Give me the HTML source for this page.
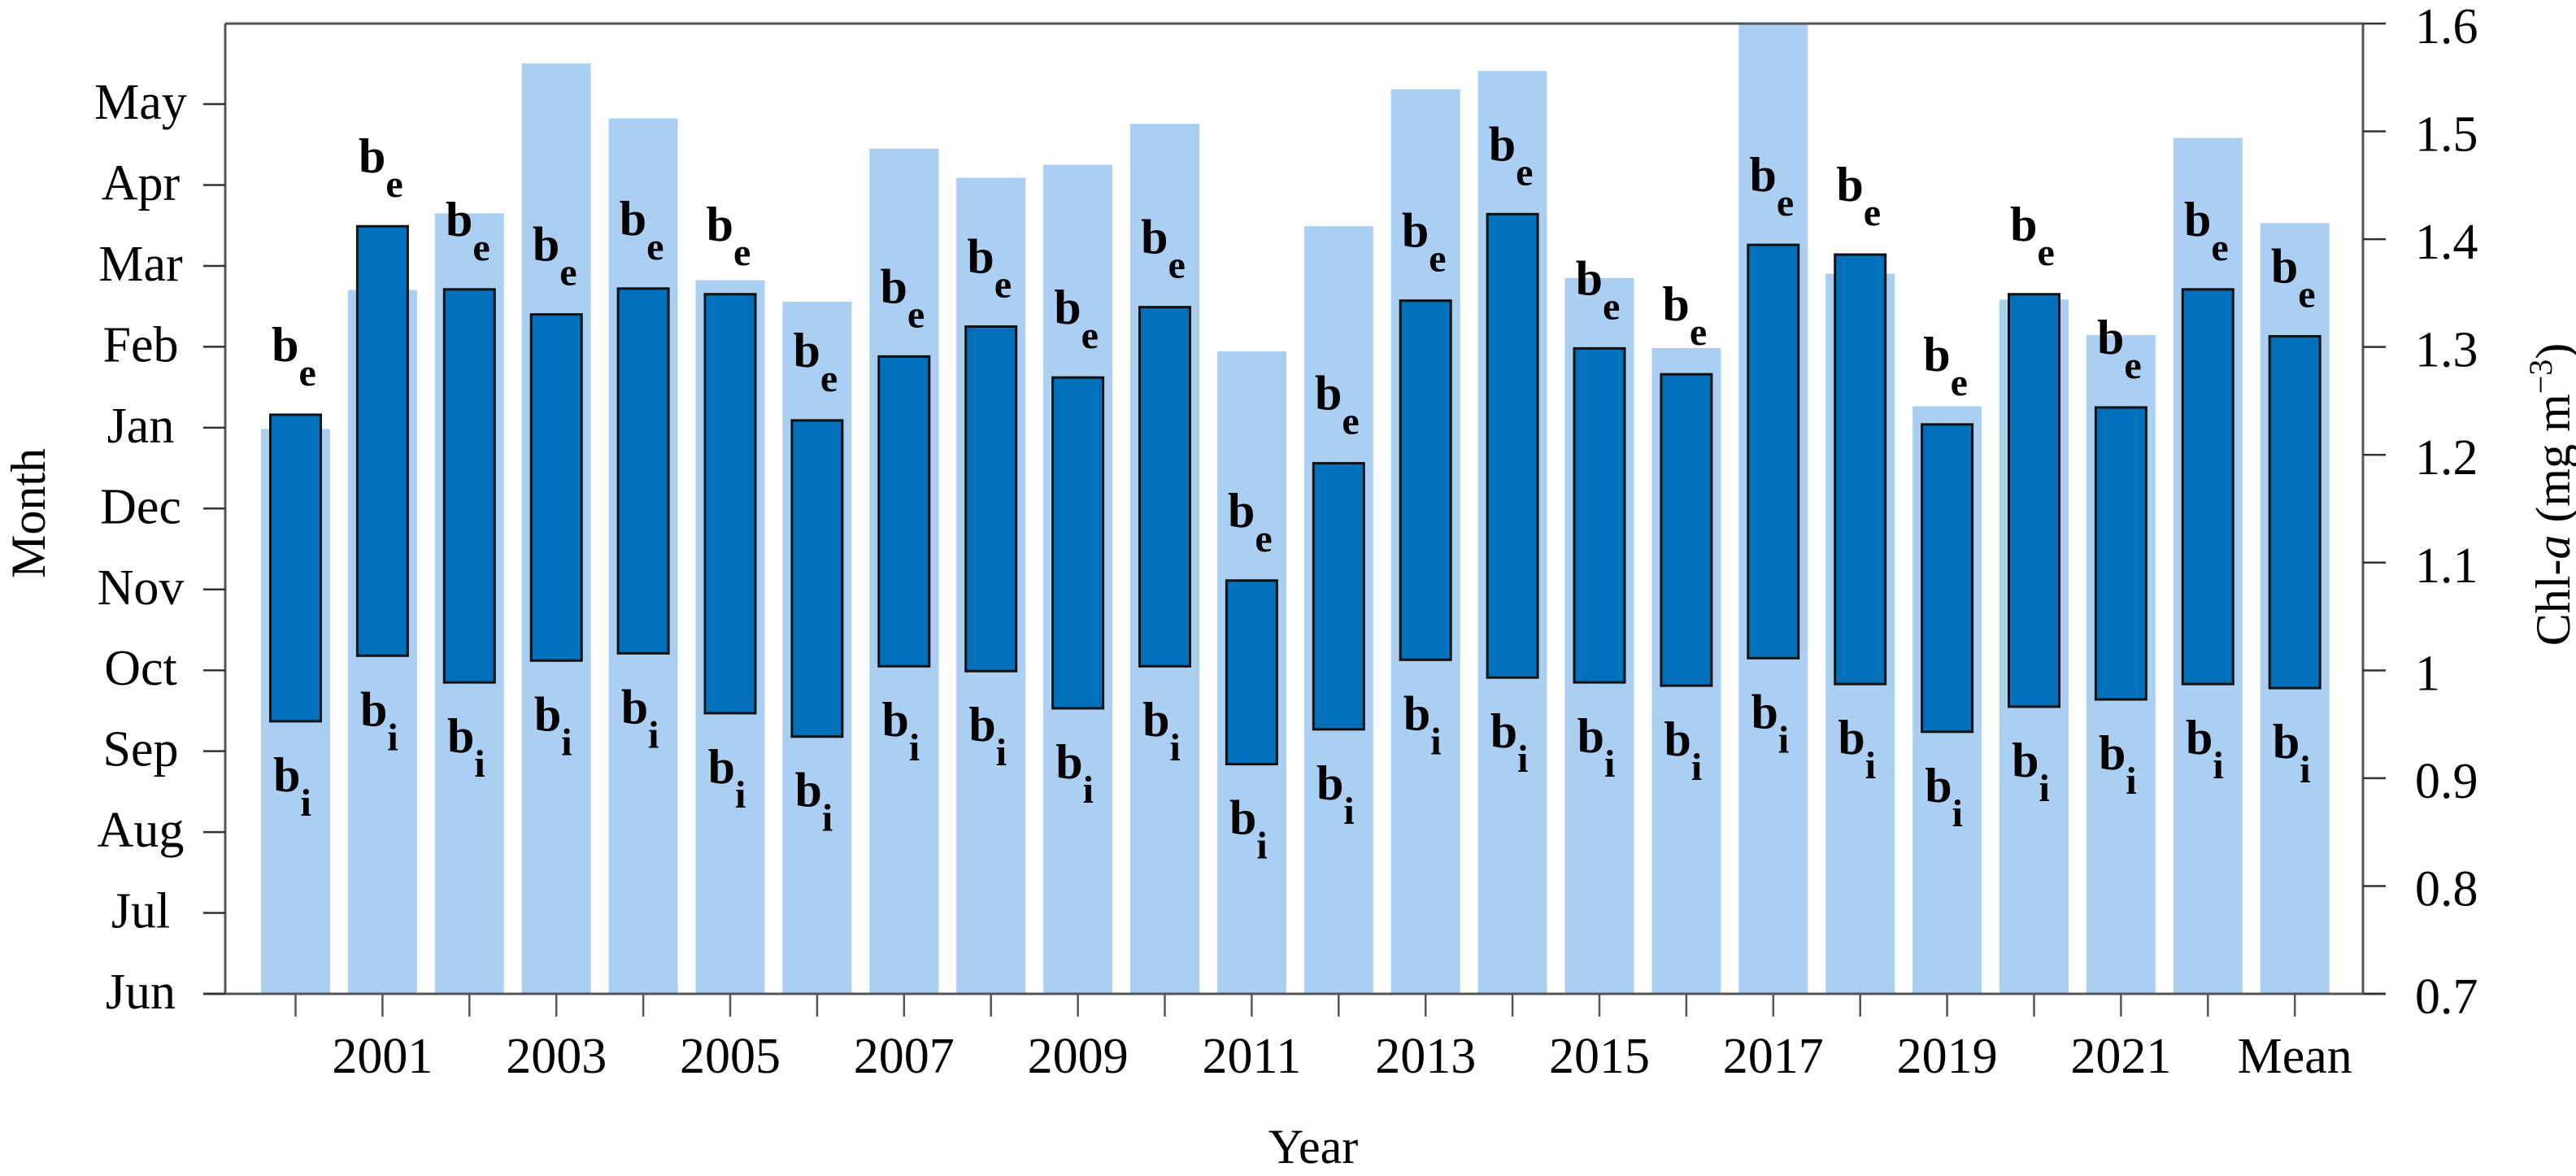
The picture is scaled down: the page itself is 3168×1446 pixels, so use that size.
<!DOCTYPE html>
<html><head><meta charset="utf-8"><style>
html,body{margin:0;padding:0;background:#fff;}
svg{display:block;font-family:"Liberation Serif",serif;}
</style></head><body>
<svg id="chart" width="3168" height="1446" viewBox="0 0 3168 1446" xmlns="http://www.w3.org/2000/svg">
<g id="light-bars"></g>
<g id="dark-bars"></g>
<g id="labels"></g>
<g id="axes"></g>
<text transform="translate(55,631) rotate(-90)" text-anchor="middle" font-size="60">Month</text>
<text transform="translate(3160,608) rotate(-90)" text-anchor="middle" font-size="60">Chl-<tspan font-style="italic">a</tspan> (mg m<tspan font-size="40" dy="-22">−3</tspan><tspan dy="22">)</tspan></text>
<text x="1615" y="1430" text-anchor="middle" font-size="60">Year</text>
</svg>
<script>
const categories = ["2000","2001","2002","2003","2004","2005","2006","2007","2008","2009","2010","2011","2012","2013","2014","2015","2016","2017","2018","2019","2020","2021","2022","Mean"];
const xTickLabels = ["","2001","","2003","","2005","","2007","","2009","","2011","","2013","","2015","","2017","","2019","","2021","","Mean"];
const chlValues = [1.224,1.353,1.424,1.563,1.512,1.362,1.342,1.484,1.457,1.469,1.507,1.296,1.412,1.539,1.556,1.364,1.299,1.60,1.368,1.245,1.344,1.311,1.494,1.415];
const bloomEnd = [7.16,9.49,8.71,8.40,8.72,8.65,7.09,7.88,8.25,7.62,8.49,5.11,6.56,8.57,9.64,7.98,7.66,9.26,9.14,7.04,8.65,7.25,8.71,8.13];
const bloomStart = [3.37,4.18,3.85,4.12,4.21,3.47,3.18,4.05,3.99,3.53,4.05,2.84,3.27,4.13,3.91,3.85,3.81,4.15,3.83,3.24,3.55,3.64,3.83,3.78];
const monthLabels = ["Jun","Jul","Aug","Sep","Oct","Nov","Dec","Jan","Feb","Mar","Apr","May"];
const chlTicks = ["0.7","0.8","0.9","1","1.1","1.2","1.3","1.4","1.5","1.6"];

const NS="http://www.w3.org/2000/svg";
const X0=363.5, DX=106.9, YB=1222, YT=29;
const xAt=i=>X0+i*DX;
const yMonth=m=>YB-m*99.45;
const yChl=v=>YB-(v-0.7)/0.9*(YB-YT);
function mk(tag,attrs,parent){const e=document.createElementNS(NS,tag);for(const k in attrs)e.setAttribute(k,attrs[k]);parent.appendChild(e);return e;}
const gL=document.getElementById('light-bars'),gD=document.getElementById('dark-bars'),gT=document.getElementById('labels'),gA=document.getElementById('axes');

categories.forEach((c,i)=>{
  const cx=xAt(i);
  const lt=Math.max(yChl(chlValues[i]),YT);
  const r=mk('rect',{x:cx-42.5,y:lt,width:85,height:YB-lt,fill:'#aacff2'},gL);
  
  
  const t=yMonth(bloomEnd[i]),b=yMonth(bloomStart[i]);
  const d=mk('rect',{x:cx-31,y:t,width:62,height:b-t,fill:'#0070bb',stroke:'#111','stroke-width':3},gD);
  
  
  const te=mk('text',{x:cx-2,y:t-66,'text-anchor':'middle','font-weight':'bold','font-size':60},gT);
  
  
  te.innerHTML='b<tspan font-size="48" dy="30">e</tspan>';
  const ti=mk('text',{x:cx-4,y:b+86,'text-anchor':'middle','font-weight':'bold','font-size':60},gT);
  
  
  ti.innerHTML='b<tspan font-size="48" dy="30">i</tspan>';
  const tk=mk('line',{x1:cx,x2:cx,y1:YB,y2:1250,stroke:'#555','stroke-width':2.5},gA);
  
  
  if(xTickLabels[i]){
    const tl=mk('text',{x:cx,y:1319,'text-anchor':'middle','font-size':62},gA);
    
    
    tl.textContent=xTickLabels[i];
  }
});
const fr=mk('path',{d:`M277 ${YT} L2906 ${YT} M277 ${YT} L277 ${YB} M2906 ${YT} L2906 ${YB} M250 ${YB} L2934 ${YB}`,stroke:'#555','stroke-width':3,fill:'none'},gA);


monthLabels.forEach((m,i)=>{
  const y=yMonth(i);
  const l=mk('line',{x1:250,x2:277,y1:y,y2:y,stroke:'#333','stroke-width':2.5},gA);
  
  
  const t=mk('text',{x:173,y:y+18,'text-anchor':'middle','font-size':62},gA);
  
  
  t.textContent=m;
});
chlTicks.forEach(v=>{
  const y=yChl(parseFloat(v));
  const l=mk('line',{x1:2906,x2:2934,y1:y,y2:y,stroke:'#333','stroke-width':2.5},gA);
  
  
  const t=mk('text',{x:2970,y:y+24,'font-size':62},gA);
  
  
  t.textContent=v;
});
</script>
</body></html>
